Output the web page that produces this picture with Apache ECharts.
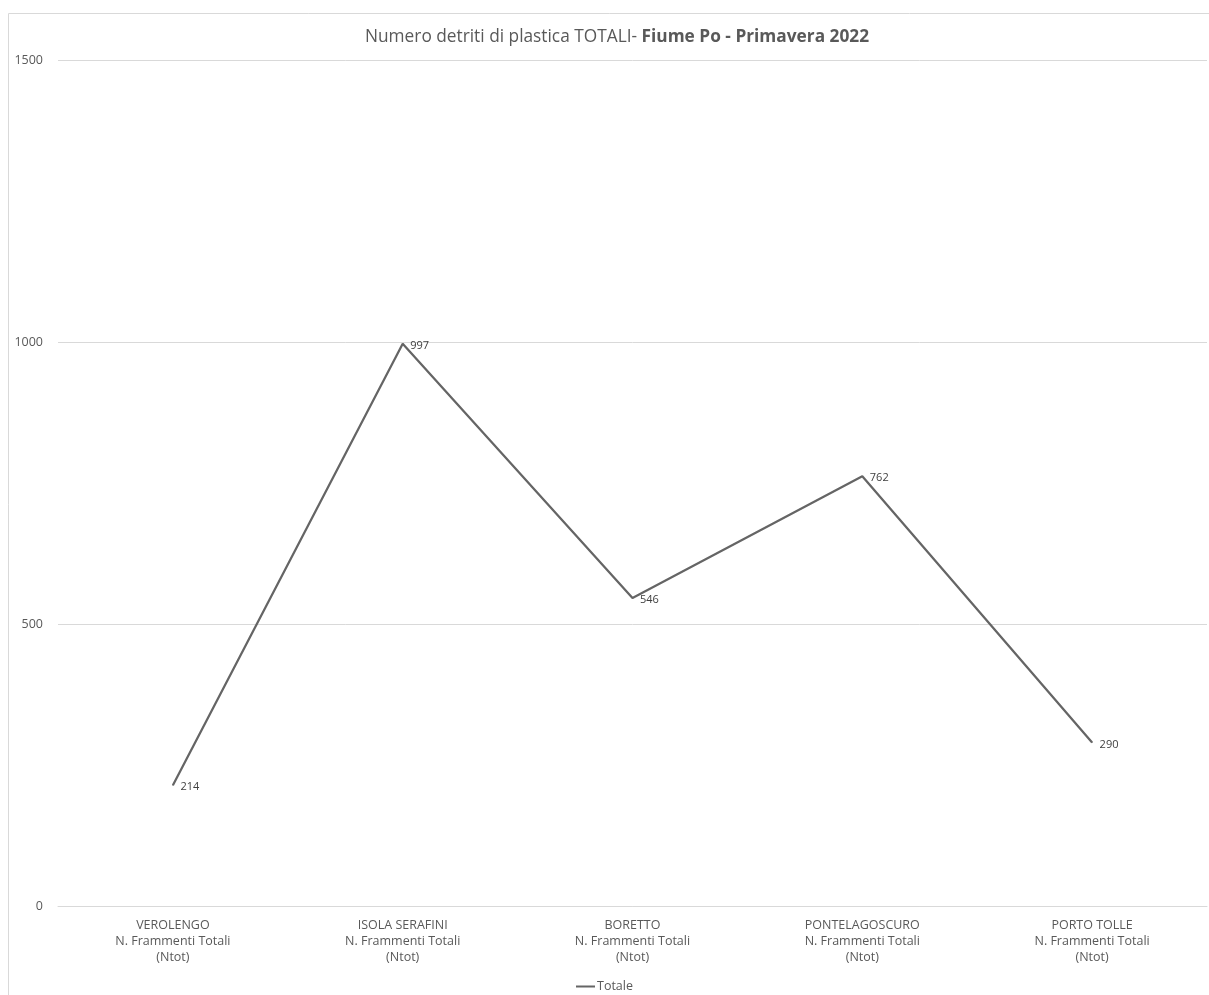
<!DOCTYPE html>
<html>
<head>
<meta charset="utf-8">
<script src="https://cdn.jsdelivr.net/npm/echarts@6/dist/echarts.min.js"></script>
<style>
html,body{margin:0;padding:0;background:#fff;}
#chart{width:1209px;height:995px;}
</style>
</head>
<body>
<div id="chart"></div>
<script>
var categories = [
  'VEROLENGO\nN. Frammenti Totali\n(Ntot)',
  'ISOLA SERAFINI\nN. Frammenti Totali\n(Ntot)',
  'BORETTO\nN. Frammenti Totali\n(Ntot)',
  'PONTELAGOSCURO\nN. Frammenti Totali\n(Ntot)',
  'PORTO TOLLE\nN. Frammenti Totali\n(Ntot)'
];
var totale = [214, 997, 546, 762, 290];
var seriesName = 'Totale';

var FONT = '"Open Sans", "Liberation Sans", sans-serif';
var chart = echarts.init(document.getElementById('chart'));
chart.setOption({
  animation: false,
  textStyle: { fontFamily: FONT },
  graphic: [{
    type: 'rect',
    shape: { x: 8.5, y: 13.5, width: 1220, height: 1000 },
    style: { fill: 'none', stroke: '#d9d9d9', lineWidth: 1 },
    silent: true
  }],
  title: {
    text: '{n|Numero detriti di plastica TOTALI- }{b|Fiume Po - Primavera 2022}',
    left: 360,
    top: 24,
    textStyle: {
      fontWeight: 'normal',
      rich: {
        n: { fontSize: 17.3, color: '#595959', fontWeight: 'normal', fontFamily: FONT },
        b: { fontSize: 17.3, color: '#595959', fontWeight: 'bold', fontFamily: FONT }
      }
    }
  },
  legend: {
    data: [seriesName],
    top: 975,
    left: 'center',
    icon: 'rect',
    itemWidth: 19,
    itemHeight: 2,
    itemGap: 4,
    textStyle: { color: '#595959', fontSize: 12.5, fontFamily: FONT, padding: [0,0,0,-3] }
  },
  grid: { left: 58, right: 2, top: 60, bottom: 89, containLabel: false },
  xAxis: {
    type: 'category',
    data: categories,
    boundaryGap: true,
    axisLine: { show: true, lineStyle: { color: '#d9d9d9' } },
    axisTick: { show: false },
    axisLabel: { color: '#595959', fontSize: 12.5, lineHeight: 16, margin: 11, interval: 0, fontFamily: FONT }
  },
  yAxis: {
    type: 'value',
    min: 0, max: 1500, interval: 500,
    axisLine: { show: false },
    axisTick: { show: false },
    splitLine: { lineStyle: { color: '#d9d9d9' } },
    axisLabel: { color: '#595959', fontSize: 12.5, margin: 15, fontFamily: FONT, formatter: function (v) { return String(v); } }
  },
  series: [{
    name: seriesName,
    type: 'line',
    data: totale,
    symbol: 'circle',
    symbolSize: 1,
    showSymbol: true,
    lineStyle: { color: '#656565', width: 2.25 },
    itemStyle: { color: '#656565' },
    label: {
      show: true,
      position: 'right',
      offset: [0, 2],
      distance: 7,
      color: '#404040',
      fontSize: 11,
      fontFamily: FONT
    }
  }]
});
</script>
</body>
</html>
